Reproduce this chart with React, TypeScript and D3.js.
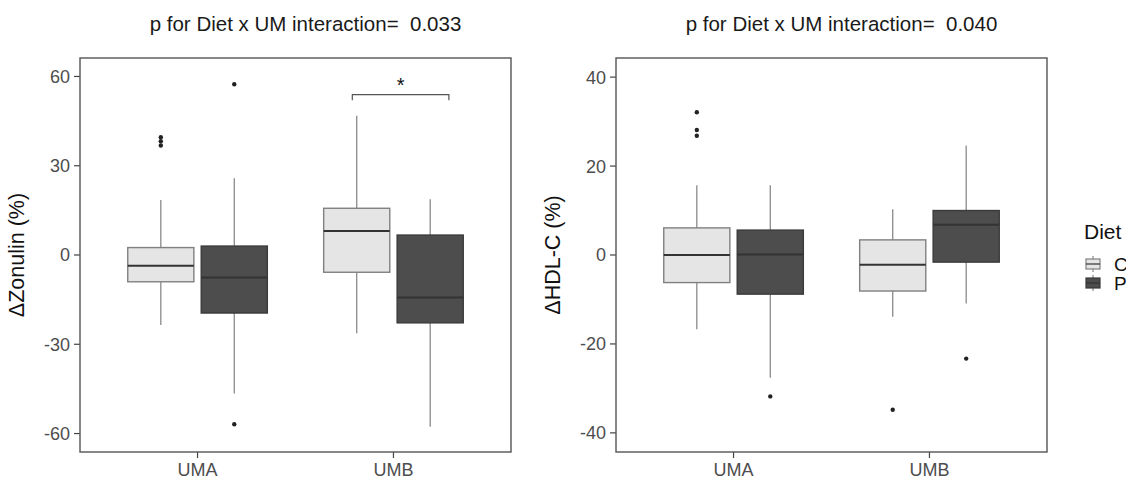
import React from 'react'
import * as d3 from 'd3'

// groups on the x axis and the two diets
const umGroups = ['UMA', 'UMB']
const diets = ['C', 'P']

// box stats: [lower whisker, Q1, median, Q3, upper whisker] per UM group, C then P
const zonulinStats = [
  [[-23.5, -9.0, -3.6, 2.5, 18.5], [-46.5, -19.5, -7.6, 3.0, 25.8]],
  [[-26.3, -5.8, 8.1, 15.7, 46.8], [-57.7, -22.8, -14.3, 6.7, 18.7]],
]
const zonulinOutliers = [
  [[39.6, 38.2, 36.8], [57.4, -56.9]],
  [[], []],
]
const hdlStats = [
  [[-16.7, -6.2, 0, 6.1, 15.7], [-27.6, -8.8, 0.1, 5.6, 15.7]],
  [[-13.9, -8.1, -2.2, 3.4, 10.3], [-10.9, -1.6, 6.8, 10.0, 24.6]],
]
const hdlOutliers = [
  [[32.1, 28.1, 26.8], [-31.8]],
  [[-34.8], [-23.3]],
]

const zonulinTicks = [-60, -30, 0, 30, 60]
const hdlTicks = [-40, -20, 0, 20, 40]

const fills: Record<string, string> = { C: '#e5e5e5', P: '#4d4d4d' }
const borders: Record<string, string> = { C: '#808080', P: '#3a3a3a' }
const FONT = '"Liberation Sans", Arial, sans-serif'

type PanelProps = {
  left: number
  title: string
  yLabel: string
  stats: number[][][]
  outliers: number[][][]
  ticks: number[]
  domain: [number, number]
  bracket?: boolean
}

function Panel({ left, title, yLabel, stats, outliers, ticks, domain, bracket }: PanelProps) {
  const top = 58, bottom = 452, width = 431
  const right = left + width
  const x = d3.scaleLinear().domain([0.4, 2.6]).range([left, right])
  const y = d3.scaleLinear().domain(domain).range([bottom, top])
  const unit = x(1) - x(0)
  const boxW = 0.3375 * unit
  const offset = 0.1875

  return (
    <g fontFamily={FONT}>
      <text
        x={(left + right) / 2 + 10}
        y={31}
        fontSize={20.5}
        textAnchor="middle"
        fill="#1a1a1a"
        style={{ whiteSpace: 'pre' }}
      >
        {title}
      </text>
      {/* axes */}
      {ticks.map(t => (
        <g key={t}>
          <line x1={left - 6} x2={left} y1={y(t)} y2={y(t)} stroke="#444" strokeWidth={1.2} />
          <text x={left - 10} y={y(t)} dy="0.36em" fontSize={18} textAnchor="end" fill="#4d4d4d">
            {t}
          </text>
        </g>
      ))}
      {umGroups.map((g, i) => (
        <g key={g}>
          <line x1={x(i + 1)} x2={x(i + 1)} y1={bottom} y2={bottom + 6} stroke="#444" strokeWidth={1.2} />
          <text x={x(i + 1)} y={476} fontSize={18} textAnchor="middle" fill="#4d4d4d">
            {g}
          </text>
        </g>
      ))}
      <text
        transform={`translate(${left - 56},${(top + bottom) / 2}) rotate(-90)`}
        fontSize={21.5}
        textAnchor="middle"
        fill="#111"
      >
        {yLabel}
      </text>

      {/* boxes */}
      {umGroups.map((g, i) =>
        diets.map((dt, j) => {
          const [lo, q1, med, q3, hi] = stats[i][j]
          const cx = x(i + 1 + (j === 0 ? -offset : offset))
          return (
            <g key={g + dt}>
              <line x1={cx} x2={cx} y1={y(hi)} y2={y(q3)} stroke="#8a8a8a" strokeWidth={1.3} />
              <line x1={cx} x2={cx} y1={y(q1)} y2={y(lo)} stroke="#8a8a8a" strokeWidth={1.3} />
              <rect
                x={cx - boxW / 2}
                y={y(q3)}
                width={boxW}
                height={y(q1) - y(q3)}
                fill={fills[dt]}
                stroke={borders[dt]}
                strokeWidth={1.4}
              />
              <line x1={cx - boxW / 2} x2={cx + boxW / 2} y1={y(med)} y2={y(med)} stroke="#333" strokeWidth={2} />
              {outliers[i][j].map((o, k) => (
                <circle key={k} cx={cx} cy={y(o)} r={2.2} fill="#222" />
              ))}
            </g>
          )
        })
      )}

      {bracket && (
        <g>
          <path
            d={`M${x(1.79)},${y(52)}V${y(53.9)}H${x(2.283)}V${y(52)}`}
            fill="none"
            stroke="#555"
            strokeWidth={1.2}
          />
          <text x={(x(1.79) + x(2.283)) / 2} y={y(53.9) - 3} fontSize={20} textAnchor="middle" fill="#111">
            *
          </text>
        </g>
      )}

      <rect x={left} y={top} width={width} height={bottom - top} fill="none" stroke="#555" strokeWidth={1.4} />
    </g>
  )
}

export default function App() {
  return (
    <svg
      width={1126}
      height={478}
      style={{ position: 'absolute', left: 0, top: 0, background: '#fff' }}
    >
      <Panel
        left={80}
        title="p for Diet x UM interaction=  0.033"
        yLabel="ΔZonulin (%)"
        stats={zonulinStats}
        outliers={zonulinOutliers}
        ticks={zonulinTicks}
        domain={[-66.2, 66.2]}
        bracket
      />
      <Panel
        left={616}
        title="p for Diet x UM interaction=  0.040"
        yLabel="ΔHDL-C (%)"
        stats={hdlStats}
        outliers={hdlOutliers}
        ticks={hdlTicks}
        domain={[-44.3, 44.3]}
      />
      {/* legend */}
      <g fontFamily={FONT}>
        <text x={1084} y={239} fontSize={21} fill="#111">Diet</text>
        {diets.map((dt, j) => {
          const cy = 264 + j * 19
          return (
            <g key={dt}>
              <line x1={1093} x2={1093} y1={cy - 8} y2={cy + 8} stroke="#8a8a8a" strokeWidth={1.2} />
              <rect x={1086} y={cy - 5} width={14} height={10} fill={fills[dt]} stroke={borders[dt]} strokeWidth={1.2} />
              <line x1={1086} x2={1100} y1={cy} y2={cy} stroke="#333" strokeWidth={1.2} />
              <text x={1114} y={cy} dy="0.36em" fontSize={19} fill="#111">{dt}</text>
            </g>
          )
        })}
      </g>
    </svg>
  )
}
